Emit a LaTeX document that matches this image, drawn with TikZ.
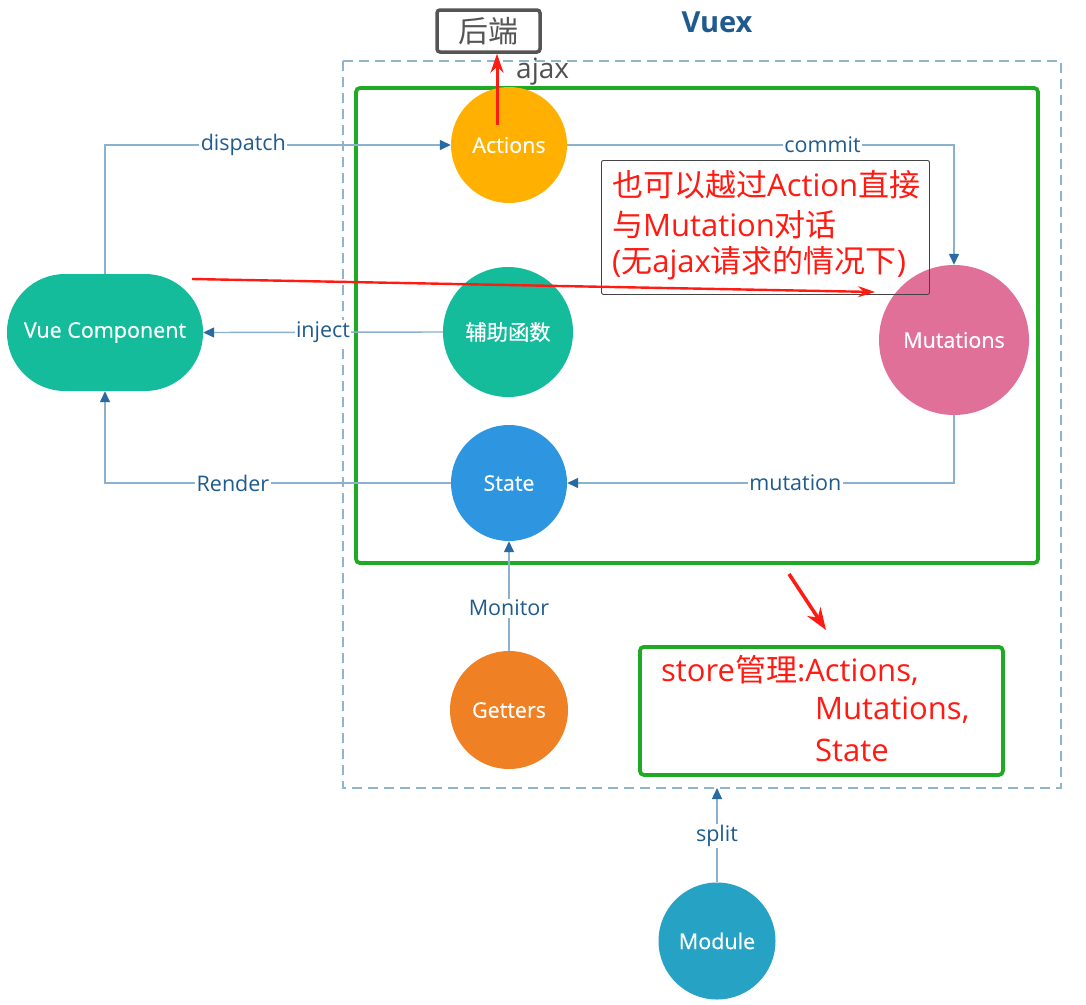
\documentclass[tikz,border=0pt]{standalone}
\usepackage{fontspec}
\setmainfont{Open Sans}
\newfontfamily\cjk{Noto Sans CJK SC}
\newfontfamily\nodefont{Open Sans}[FakeBold=0.4]
\newfontfamily\cjkbold{Noto Sans CJK SC}[FakeBold=0.4]
\usetikzlibrary{arrows.meta}
\definecolor{teal}{HTML}{14BC9C}
\definecolor{actc}{HTML}{FFB000}
\definecolor{mutc}{HTML}{E07098}
\definecolor{statec}{HTML}{2E96E0}
\definecolor{getc}{HTML}{F08024}
\definecolor{modc}{HTML}{26A3C4}
\definecolor{connc}{HTML}{8AB2CE}
\definecolor{tipc}{HTML}{2A6AA3}
\definecolor{lblc}{HTML}{1F5B8F}
\definecolor{greenc}{HTML}{1EAA22}
\definecolor{dashc}{HTML}{8FB4CF}
\definecolor{redc}{HTML}{FF1A12}
\definecolor{greyc}{HTML}{555555}
\tikzset{
  circ/.style={circle, inner sep=0pt, text=white, font=\nodefont\fontsize{21.5}{25}\selectfont},
  conn/.style={draw=connc, line width=1.4pt, -{Triangle[length=11pt,width=10pt,color=tipc]}},
  lbl/.style={fill=white, text=lblc, font=\fontsize{21.5}{25}\selectfont, inner sep=1.5pt},
  redarr/.style={draw=redc, line width=2.4pt, -{Stealth[length=17pt,width=11pt]}},
  redtext/.style={text=redc, font=\fontsize{31}{39}\selectfont, inner sep=0pt, anchor=west},
  greenframe/.style={draw=greenc, line width=3.8pt, rounded corners=4pt}
}
\begin{document}
\begin{tikzpicture}[x=1pt,y=-1pt]
\useasboundingbox[fill=white] (0,0) rectangle (1086,1004);

% frames
\draw[dashc, line width=1.5pt, dash pattern=on 10pt off 6pt] (343,61) rectangle (1061,788);
\draw[greenframe] (356,88) rectangle (1038,563);
\node[draw=greenc, line width=3.8pt, rounded corners=4pt, minimum width=363, minimum height=128, anchor=north west, inner sep=0pt] (store) at (638,645) {};

% titles
\node[font=\bfseries\fontsize{29}{32}\selectfont, text=lblc] (vuex) at (717,22) {Vuex};
\node[draw=greyc, line width=3.5pt, rounded corners=3pt, minimum width=103, minimum height=42, inner sep=0pt, text=greyc, font=\cjk\fontsize{30}{32}\selectfont] (backend) at (488.5,31) {后端};
\node[anchor=west, text=greyc!95!black, font=\fontsize{28}{32}\selectfont, inner sep=0pt] (ajax) at (516,72) {ajax};

% nodes
\node[draw=none, fill=teal, rounded corners=58pt, minimum width=196, minimum height=117, inner sep=0pt, text=white, font=\nodefont\fontsize{21.5}{25}\selectfont] (vue) at (105,332.5) {Vue Component};
\node[circ, fill=actc, minimum size=116] (act) at (509,145) {Actions};
\node[circ, fill=teal, minimum size=130, font=\cjkbold\fontsize{21.3}{25}\selectfont] (aux) at (508,332) {辅助函数};
\node[circ, fill=mutc, minimum size=150] (mut) at (954,340) {Mutations};
\node[circ, fill=statec, minimum size=116] (state) at (509,483) {State};
\node[circ, fill=getc, minimum size=118] (get) at (509,710) {Getters};
\node[circ, fill=modc, minimum size=117] (mod) at (717,941) {Module};
\coordinate (vuexbot) at (717,788);

% connectors
\draw[conn] (vue.north) |- node[lbl, pos=0.70] {dispatch} (act.west);
\draw[conn] (act.east) -| node[lbl, pos=0.33] {commit} (mut.north);
\draw[conn] (aux.west) -- node[lbl, pos=0.5] {inject} (vue.east);
\draw[conn] (mut.south) |- node[lbl, pos=0.705] {mutation} (state.east);
\draw[conn] (state.west) -| node[lbl, pos=0.315] {Render} (vue.south);
\draw[conn] (get.north) -- node[lbl, pos=0.39] {Monitor} (state.south);
\draw[conn] (mod.north) -- node[lbl, pos=0.49] {split} (vuexbot);

% note box
\node[draw=greyc!80!black, line width=0.9pt, rounded corners=2pt, minimum width=328, minimum height=134, anchor=north west, inner sep=0pt] (note) at (601,160) {};
\node[redtext] (n1) at (612,185) {{\cjk 也可以越过}Action{\cjk 直接}};
\node[redtext] (n2) at (612,225) {{\cjk 与}Mutation{\cjk 对话}};
\node[redtext] (n3) at (612,263) {({\cjk 无}ajax{\cjk 请求的情况下})};

% store text
\node[redtext] (s1) at (661,670) {store{\cjk 管理}:Actions,};
\node[redtext] (s2) at (815,710) {Mutations,};
\node[redtext] (s3) at (815,750) {State};

% red arrows
\coordinate (rs) at (192,279);
\coordinate (re) at (875,292);
\draw[redarr] (rs) -- (re);
\coordinate (ajs) at (497,125);
\draw[redarr, line width=3pt, -{Stealth[length=19pt,width=13pt]}] (ajs) -- (ajs |- backend.south);
\coordinate (ds) at (789,574);
\coordinate (de) at (826,630);
\draw[redarr, line width=3.5pt, -{Stealth[length=22pt,width=16pt]}] (ds) -- (de);
\end{tikzpicture}
\end{document}
